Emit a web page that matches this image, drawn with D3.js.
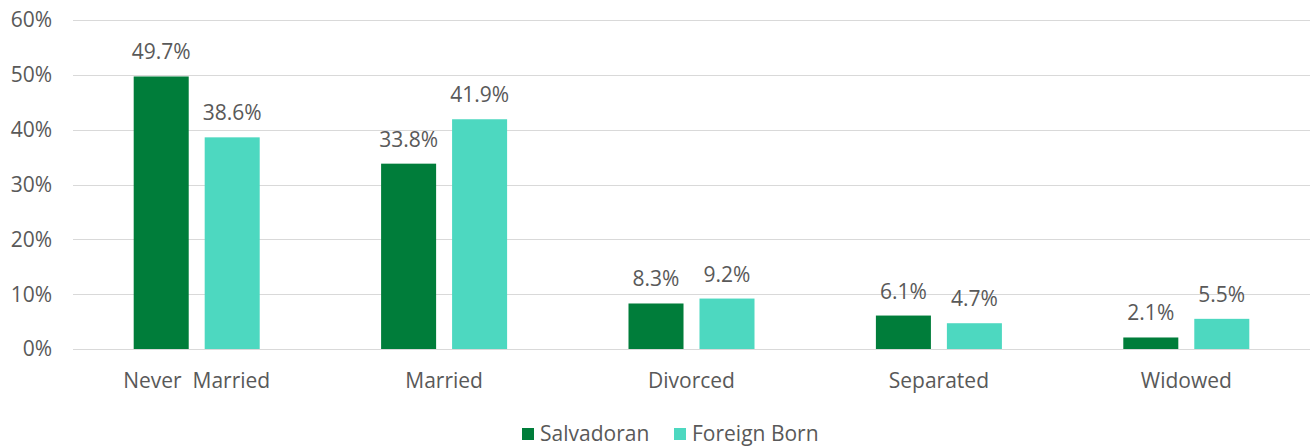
<!DOCTYPE html>
<html>
<head>
<meta charset="utf-8">
<script src="https://cdn.jsdelivr.net/npm/d3@7"></script>
<style>
  body { margin: 0; background: #fff; }
  text { font-family: "Open Sans", Lato, sans-serif; fill: #595959; }
</style>
</head>
<body>
<div id="wrapper"></div>
<script>
const categories = ["Never  Married", "Married", "Divorced", "Separated", "Widowed"]
const seriesNames = ["Salvadoran", "Foreign Born"]
const salvadoran = [49.7, 33.8, 8.3, 6.1, 2.1]
const foreignBorn = [38.6, 41.9, 9.2, 4.7, 5.5]
const yTicks = [0, 10, 20, 30, 40, 50, 60]
const colors = ["#007d3a", "#4dd8c0"]

let dimensions = {
  width: 1312,
  height: 446,
  margin: { top: 20, right: 2, bottom: 97, left: 73 },
}
dimensions.boundedWidth = dimensions.width - dimensions.margin.left - dimensions.margin.right
dimensions.boundedHeight = dimensions.height - dimensions.margin.top - dimensions.margin.bottom

const data = categories.map((c, i) => ({
  category: c,
  values: [salvadoran[i], foreignBorn[i]],
}))

const svg = d3.select("#wrapper")
  .append("svg")
    .attr("width", dimensions.width)
    .attr("height", dimensions.height)

const bounds = svg.append("g")
  .attr("transform", `translate(${dimensions.margin.left},${dimensions.margin.top})`)

const x0 = d3.scaleBand()
  .domain(categories)
  .range([0, dimensions.boundedWidth])

const x1 = d3.scaleBand()
  .domain(seriesNames)
  .range([0, x0.bandwidth()])
  .paddingInner(0.225)
  .paddingOuter(0.855)

const y = d3.scaleLinear()
  .domain([0, 60])
  .range([dimensions.boundedHeight, 0])

// gridlines
bounds.append("g")
  .selectAll("line")
  .data(yTicks)
  .join("line")
    .attr("x1", 0)
    .attr("x2", dimensions.boundedWidth)
    .attr("y1", d => Math.round(y(d)) + 0.5)
    .attr("y2", d => Math.round(y(d)) + 0.5)
    .attr("stroke", "#d9d9d9")
    .attr("stroke-width", 1)

// y axis labels
bounds.append("g")
  .selectAll("text")
  .data(yTicks)
  .join("text")
    .attr("x", -21)
    .attr("y", d => y(d))
    .attr("dy", "0.35em")
    .attr("text-anchor", "end")
    .style("font-size", "21px")
    .text(d => d + "%")

const groups = bounds.selectAll(".group")
  .data(data)
  .join("g")
    .attr("class", "group")
    .attr("transform", d => `translate(${x0(d.category)},0)`)

groups.selectAll("rect")
  .data(d => d.values.map((v, i) => ({ key: seriesNames[i], value: v, i })))
  .join("rect")
    .attr("x", d => x1(d.key))
    .attr("y", d => y(d.value))
    .attr("width", x1.bandwidth())
    .attr("height", d => y(0) - y(d.value))
    .attr("fill", d => colors[d.i])

groups.selectAll(".value-label")
  .data(d => d.values.map((v, i) => ({ key: seriesNames[i], value: v })))
  .join("text")
    .attr("class", "value-label")
    .attr("x", d => x1(d.key) + x1.bandwidth() / 2)
    .attr("y", d => y(d.value) - 17)
    .attr("text-anchor", "middle")
    .style("font-size", "21px")
    .text(d => d.value.toFixed(1) + "%")

// category labels
bounds.append("g")
  .selectAll("text")
  .data(categories)
  .join("text")
    .attr("x", d => x0(d) + x0.bandwidth() / 2)
    .attr("y", dimensions.boundedHeight + 39)
    .attr("text-anchor", "middle")
    .style("font-size", "21px")
    .style("white-space", "pre")
    .attr("xml:space", "preserve")
    .text(d => d)

// legend
const legendGroup = svg.append("g")
const legendItems = [
  { name: seriesNames[0], x: 522 },
  { name: seriesNames[1], x: 674 },
]
legendGroup.selectAll("rect")
  .data(legendItems)
  .join("rect")
    .attr("x", d => d.x)
    .attr("y", 428)
    .attr("width", 12)
    .attr("height", 12)
    .attr("fill", (d, i) => colors[i])
legendGroup.selectAll("text")
  .data(legendItems)
  .join("text")
    .attr("x", d => d.x + 18)
    .attr("y", 434)
    .attr("dy", "0.35em")
    .style("font-size", "21px")
    .text(d => d.name)
</script>
</body>
</html>
